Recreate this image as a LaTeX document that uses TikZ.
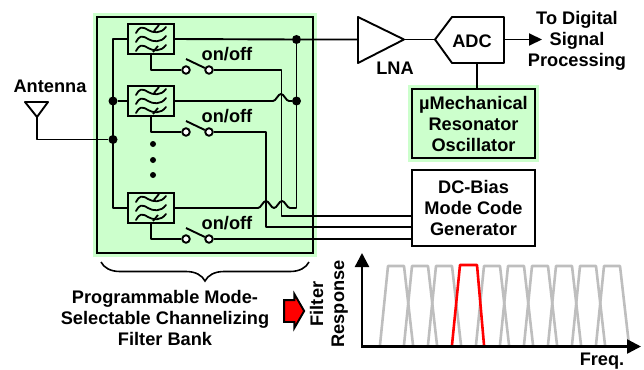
\documentclass[tikz,border=0pt]{standalone}
\usepackage{fontspec}
\setmainfont{Liberation Sans}
\usetikzlibrary{arrows.meta, positioning, shapes.arrows, decorations.pathreplacing}

\definecolor{bankgreen}{HTML}{CCFFCC}
\definecolor{curvegray}{HTML}{BEBEBE}

% one hop of a wire over a crossing wire
\newcommand{\hopover}{.. controls +(3,0) and +(-3,0) .. ++(8,-7) .. controls +(3,0) and +(-3,0) .. ++(8,7)}

\begin{document}
\begin{tikzpicture}[
    x=1pt, y=-1pt,
    label/.style={font=\fontsize{18.2}{21}\selectfont\bfseries, align=center, inner sep=0pt},
    wire/.style={line width=1.9pt, line join=round},
    block/.style={rectangle, draw=black, line width=2pt, inner sep=0pt, outer sep=0pt, align=center,
                  font=\fontsize{18.2}{21}\selectfont\bfseries},
    glowblock/.style={block, fill=bankgreen, preaction={draw=bankgreen, line width=8pt}},
    filterbox/.style={block, fill=bankgreen, line width=2.6pt, minimum width=46pt, minimum height=30pt},
    junction/.style={circle, fill=black, inner sep=0pt, minimum size=9pt},
    dotmark/.style={circle, fill=black, inner sep=0pt, minimum size=6pt},
    terminal/.style={circle, draw=black, fill=white, line width=1.9pt, inner sep=0pt, minimum size=7.5pt},
    curve/.style={line width=2.6pt, line join=round},
    axis/.style={line width=2.4pt},
    pics/wavefilter/.style={code={
        \foreach \dy in {-9,0,9} {
            \draw[line width=1.8pt, line cap=round] (-15,\dy+3)
                .. controls (-12,\dy-3) and (-9,\dy-4) .. (-3,\dy)
                .. controls (2,\dy+3) and (10,\dy+4) .. (15,\dy-3);
        }
        \draw[line width=1.8pt] (8,-14) -- (3,-8);
        \draw[line width=1.8pt] (7,7) -- (2,13);
    }}
]
\useasboundingbox (0,0) rectangle (644,369);

% Filter bank panel
\node[glowblock, minimum width=216pt, minimum height=236pt] (bank) at (205,135) {};

% Filters and their switches
\foreach \name/\ypos in {a/39, b/101, c/208} {
    \node[filterbox] (filter\name) at (151,\ypos) {};
    \pic at (filter\name) {wavefilter};
}
\foreach \name/\ypos/\labelpos in {a/70/54, b/132/116, c/239/223} {
    \node[terminal] (swleft\name) at (186,\ypos) {};
    \node[terminal] (swright\name) at (209,\ypos) {};
    \node[label] (onoff\name) at (227,\labelpos) {on/off};
    \coordinate (lever\name) at (186,\ypos-11);
    \draw[wire] (lever\name) -- (swright\name);
    \draw[wire] (filter\name.south) |- (swleft\name);
}
\node[dotmark] (dotone) at (153,144) {};
\node[dotmark] (dottwo) at (153,160) {};
\node[dotmark] (dotthree) at (153,175) {};

% Antenna
\node[label] (antenna) at (50,86) {Antenna};
\coordinate (antleft) at (25,102);
\coordinate (antright) at (48,102);
\coordinate (anttip) at (37,117);
\draw[wire, fill=white] (antleft) -- (antright) -- (anttip) -- cycle;

% Input bus
\coordinate (inbustop) at (113,39);
\coordinate (inbusbot) at (113,208);
\node[junction] (injoin) at (113,101) {};
\node[junction] (antjoin) at (113,139.5) {};
\draw[wire] (filtera.west) -- (inbustop) -- (inbusbot) -- (filterc.west);
\draw[wire] (injoin) -- (filterb.west);
\draw[wire] (anttip) |- (antjoin);

% LNA, ADC
\coordinate (lnatop) at (358,17);
\coordinate (lnabot) at (358,63);
\coordinate (lnain) at (358,39.5);
\coordinate (lnaout) at (404,39.5);
\draw[wire, fill=white] (lnatop) -- (lnaout) -- (lnabot) -- cycle;
\node[label] (lna) at (395,68) {LNA};
\node[label] (adc) at (472,41) {ADC};
\coordinate (adctip) at (435,39.5);
\coordinate (adcout) at (504,39.5);
\coordinate (adcclk) at (477,63);
\draw[wire] (adctip) -- (452,17) -- (504,17) -- (504,63) -- (452,63) -- cycle;
\draw[wire] (lnaout) -- (adctip);
\coordinate (arrowend) at (542,39.5);
\draw[wire, -{Stealth[length=13pt, width=12pt, inset=0pt]}] (adcout) -- (arrowend);
\node[label] (digital) at (577,41) {To Digital\\Signal\\Processing};

% Output bus
\node[junction] (outa) at (296.5,39.5) {};
\node[junction] (outb) at (296.5,101) {};
\coordinate (outbot) at (296.5,208);
\draw[wire] (filtera.east) -- (outa) -- (lnain);
\draw[wire] (outa) -- (outbot);
\coordinate (hopb) at (273,101);
\coordinate (hopc) at (258,208);
\draw[wire] (filterb.east) -- (hopb) \hopover -- (outb);
\draw[wire] (filterc.east) -- (hopc) \hopover \hopover -- (outbot);

% Oscillator and bias generator
\node[glowblock, minimum width=123pt, minimum height=69pt] (osc) at (473.5,123.5) {µMechanical\\Resonator\\Oscillator};
\node[block, minimum width=123pt, minimum height=76pt] (dcbias) at (473.5,208) {DC-Bias\\Mode Code\\Generator};
\draw[wire] (adcclk) -- (osc.north -| adcclk);

% Mode code wires
\coordinate (biasa) at (281.5,216);
\coordinate (biasb) at (266,227);
\coordinate (switchtopa) at (281.5,70);
\coordinate (switchtopb) at (266,132);
\draw[wire] (swrighta) -- (switchtopa) -- (biasa) -- (biasa -| dcbias.west);
\draw[wire] (swrightb) -- (switchtopb) -- (biasb) -- (biasb -| dcbias.west);
\draw[wire] (swrightc) -- (swrightc -| dcbias.west);

% Brace and caption
\coordinate (braceright) at (309,262);
\coordinate (braceleft) at (101,262);
\draw[line width=1.6pt, decorate, decoration={brace, amplitude=19pt, raise=0pt}] (braceright) -- (braceleft);
\node[label] (caption) at (165,318) {Programmable Mode-\\Selectable Channelizing\\Filter Bank};
\node[single arrow, draw=black, fill=red, line width=1.9pt, inner sep=0pt, minimum height=20pt, anchor=center,
      single arrow head extend=6pt, single arrow head indent=0pt, single arrow tip angle=120] (redarrow) at (291,311) {\rule{0pt}{20pt}};

% Filter response plot
\node[label, rotate=90] (yaxislabel) at (329,304) {Filter\\Response};
\node[label] (xaxislabel) at (602,361) {Freq.};
\coordinate (origin) at (362,346.5);
\coordinate (ytop) at (362,253);
\coordinate (xend) at (641,346.5);
\foreach \i in {0,1,2,4,5,6,7,8,9} {
    \draw[curve, curvegray] (380+24*\i,345) -- (388+24*\i,266) -- (404+24*\i,266) -- (413+24*\i,345);
}
\draw[curve, red] (452,345) -- (460,265) -- (477,265) -- (484,345);
\draw[axis, {Stealth[length=14pt, width=14pt, inset=0pt]}-{Stealth[length=14pt, width=14pt, inset=0pt]}] (ytop) -- (origin) -- (xend);

\end{tikzpicture}
\end{document}
